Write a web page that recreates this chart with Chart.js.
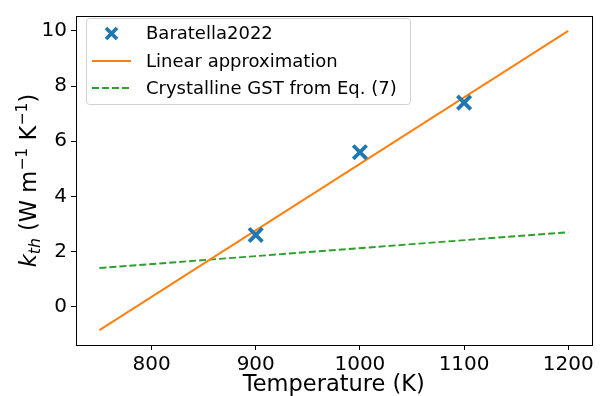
<!DOCTYPE html>
<html>
<head>
<meta charset="utf-8">
<script src="https://cdn.jsdelivr.net/npm/chart.js@4.4.1/dist/chart.umd.min.js"></script>
<style>
  html, body { margin: 0; padding: 0; background: #fff; }
</style>
</head>
<body>
<canvas id="grafico" width="605" height="396"></canvas>
<script>
// datos medidos (Baratella 2022)
const baratellaT = [900, 1000, 1100]
const baratellaK = [2.6, 5.6, 7.4]
// ajuste lineal
const ajusteT = [750, 1200]
const ajusteK = [-0.85, 10.0]
// GST cristalino, Ec. (7)
const gstT = [750, 1200]
const gstK = [1.4, 2.7]

const ticksX = [800, 900, 1000, 1100, 1200]
const ticksY = [0, 2, 4, 6, 8, 10]

const etiquetas = ['Baratella2022', 'Linear approximation', 'Crystalline GST from Eq. (7)']

const AZUL = '#1f77b4', NARANJA = '#ff7f0e', VERDE = '#2ca02c'
const FUENTE = '"DejaVu Sans", sans-serif'

const puntos = (xs, ys) => xs.map((x, i) => ({x: x, y: ys[i]}))

// marco, títulos de ejes y leyenda dibujados a mano
const extras = {
    id: 'extras',
    afterDraw(chart) {
        const ctx = chart.ctx
        const a = chart.chartArea
        ctx.save()

        // marco completo
        ctx.strokeStyle = '#000'
        ctx.lineWidth = 1
        ctx.strokeRect(Math.round(a.left) + 0.5, Math.round(a.top) + 0.5,
            Math.round(a.right - a.left), Math.round(a.bottom - a.top))

        // título eje x
        ctx.fillStyle = '#000'
        ctx.font = '22.5px ' + FUENTE
        ctx.textAlign = 'center'
        ctx.textBaseline = 'alphabetic'
        ctx.fillText('Temperature (K)', (a.left + a.right) / 2, 391)

        // título eje y con subíndice y superíndices
        const trozos = [
            {t: 'k', f: 'italic 22.5px ' + FUENTE, dy: 0},
            {t: 'th', f: 'italic 15.75px ' + FUENTE, dy: 4},
            {t: ' (W m', f: '22.5px ' + FUENTE, dy: 0},
            {t: '\u22121', f: '15.75px ' + FUENTE, dy: -9},
            {t: ' K', f: '22.5px ' + FUENTE, dy: 0},
            {t: '\u22121', f: '15.75px ' + FUENTE, dy: -9},
            {t: ')', f: '22.5px ' + FUENTE, dy: 0}
        ]
        let ancho = 0
        trozos.forEach(p => { ctx.font = p.f; p.w = ctx.measureText(p.t).width; ancho += p.w })
        ctx.translate(36, (a.top + a.bottom) / 2)
        ctx.rotate(-Math.PI / 2)
        ctx.textAlign = 'left'
        let px = -ancho / 2
        trozos.forEach(p => {
            ctx.font = p.f
            ctx.fillText(p.t, px, p.dy)
            px += p.w
        })
        ctx.setTransform(1, 0, 0, 1, 0, 0)

        // leyenda
        ctx.beginPath()
        ctx.roundRect(86.5, 18.5, 324, 86, 3)
        ctx.fillStyle = 'rgba(255,255,255,0.8)'
        ctx.fill()
        ctx.strokeStyle = '#d0d0d0'
        ctx.stroke()

        const filas = [33.5, 61, 88]
        chart.data.datasets.forEach((ds, i) => {
            const y = filas[i]
            if (ds.showLine === false) {
                ctx.strokeStyle = ds.borderColor
                ctx.lineWidth = ds.borderWidth
                const r = 5.5
                ctx.beginPath()
                ctx.moveTo(111.5 - r, y - r); ctx.lineTo(111.5 + r, y + r)
                ctx.moveTo(111.5 - r, y + r); ctx.lineTo(111.5 + r, y - r)
                ctx.stroke()
            } else {
                ctx.strokeStyle = ds.borderColor
                ctx.lineWidth = ds.borderWidth
                ctx.setLineDash(ds.borderDash || [])
                ctx.beginPath()
                ctx.moveTo(92, y); ctx.lineTo(131, y)
                ctx.stroke()
                ctx.setLineDash([])
            }
            ctx.fillStyle = '#000'
            ctx.font = '18px ' + FUENTE
            ctx.textBaseline = 'middle'
            ctx.fillText(ds.label, 146, y + 1)
        })
        ctx.restore()
    }
}

const grafico = new Chart(document.getElementById('grafico'), {
    type: 'scatter',
    data: {
        datasets: [
            {
                label: etiquetas[0],
                data: puntos(baratellaT, baratellaK),
                showLine: false,
                pointStyle: 'crossRot',
                pointRadius: 9.5,
                borderColor: AZUL,
                backgroundColor: AZUL,
                borderWidth: 3.8,
                order: 0
            },
            {
                label: etiquetas[1],
                data: puntos(ajusteT, ajusteK),
                showLine: true,
                pointRadius: 0,
                borderColor: NARANJA,
                borderWidth: 1.9,
                order: 1
            },
            {
                label: etiquetas[2],
                data: puntos(gstT, gstK),
                showLine: true,
                pointRadius: 0,
                borderColor: VERDE,
                borderWidth: 1.9,
                borderDash: [7, 3],
                order: 2
            }
        ]
    },
    options: {
        responsive: false,
        animation: false,
        layout: { padding: { top: 8, right: 9, left: 0, bottom: 0 } },
        plugins: {
            legend: { display: false },
            tooltip: { enabled: false }
        },
        scales: {
            x: {
                type: 'linear',
                min: 727.5,
                max: 1222.5,
                afterBuildTicks: s => { s.ticks = ticksX.map(v => ({value: v})) },
                afterFit: s => { s.height = 51 },
                border: { display: false },
                grid: { drawOnChartArea: false, drawTicks: true, tickLength: 5, color: '#000', lineWidth: 1 },
                ticks: { color: '#000', font: { family: FUENTE, size: 20 }, padding: 3, maxRotation: 0,
                         callback: v => String(v) }
            },
            y: {
                type: 'linear',
                min: -1.39,
                max: 10.54,
                afterBuildTicks: s => { s.ticks = ticksY.map(v => ({value: v})) },
                afterFit: s => { s.width = 76 },
                border: { display: false },
                grid: { drawOnChartArea: false, drawTicks: true, tickLength: 5, color: '#000', lineWidth: 1 },
                ticks: { color: '#000', font: { family: FUENTE, size: 20 }, padding: 4,
                         callback: v => String(v) }
            }
        }
    },
    plugins: [extras]
})
</script>
</body>
</html>
